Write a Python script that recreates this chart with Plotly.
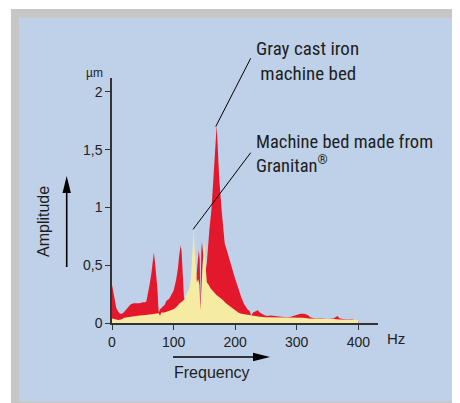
import plotly.graph_objects as go

# ---- data ----
iron_hz = [0, 2, 4, 7, 10, 13, 16, 19, 22, 26, 30, 35, 40, 45, 50, 54, 56, 58, 61, 64,
           66, 68, 70, 72, 74, 75, 76, 78, 80, 83, 86, 88, 90, 93, 96, 100, 104, 107, 109, 111.5,
           113, 114.5, 116, 117, 120, 125, 130, 134, 137, 139, 141, 142.5, 143.5, 145, 146, 148, 150, 152, 154, 156,
           158, 161.5, 165, 168, 170, 171.5, 174, 178, 183, 187, 191, 195, 199, 204, 210, 215, 220, 224, 226, 229,
           233, 237, 240, 243, 247, 252, 258, 264, 270, 276, 282, 288, 294, 300, 306, 312, 318, 322, 330, 340,
           350, 360, 366, 370, 380, 390, 400]
iron_amp = [0.33, 0.27, 0.19, 0.13, 0.10, 0.08, 0.08, 0.09, 0.11, 0.14, 0.16, 0.17, 0.17, 0.17, 0.18, 0.18, 0.19, 0.24, 0.33, 0.43,
            0.52, 0.61, 0.52, 0.42, 0.28, 0.16, 0.09, 0.12, 0.13, 0.14, 0.16, 0.19, 0.20, 0.21, 0.24, 0.28, 0.37, 0.47, 0.58, 0.67,
            0.62, 0.45, 0.30, 0.21, 0.22, 0.26, 0.30, 0.33, 0.40, 0.55, 0.63, 0.55, 0.12, 0.62, 0.70, 0.60, 0.50, 0.45, 0.52, 0.69,
            0.80, 0.98, 1.26, 1.55, 1.71, 1.55, 1.26, 0.98, 0.69, 0.62, 0.54, 0.47, 0.40, 0.32, 0.22, 0.16, 0.12, 0.10, 0.06, 0.09,
            0.10, 0.11, 0.09, 0.08, 0.07, 0.06, 0.065, 0.06, 0.055, 0.05, 0.05, 0.05, 0.06, 0.07, 0.08, 0.08, 0.07, 0.05, 0.04, 0.04,
            0.035, 0.04, 0.06, 0.04, 0.03, 0.03, 0.02]

granitan_hz = [0, 5, 10, 15, 20, 25, 30, 37, 45, 55, 65, 73, 76, 78, 80, 85, 90, 95, 100, 105,
               110, 115, 118, 121, 124, 126, 128, 130, 132, 133, 134, 136, 138, 140, 142, 143.5, 145, 147, 149, 150.5,
               152, 154, 157, 160, 165, 170, 175, 180, 185, 190, 195, 200, 205, 210, 215, 220, 230, 240, 250, 260,
               270, 280, 290, 300, 310, 320, 330, 340, 350, 360, 370, 380, 390, 400]
granitan_amp = [0.04, 0.03, 0.025, 0.03, 0.045, 0.05, 0.055, 0.06, 0.065, 0.07, 0.075, 0.08, 0.085, 0.06, 0.09, 0.09, 0.10, 0.11, 0.12, 0.14,
                0.17, 0.19, 0.21, 0.25, 0.28, 0.31, 0.38, 0.55, 0.75, 0.82, 0.65, 0.45, 0.35, 0.38, 0.33, 0.11, 0.35, 0.50, 0.62, 0.70,
                0.50, 0.35, 0.33, 0.30, 0.27, 0.24, 0.22, 0.20, 0.17, 0.15, 0.13, 0.11, 0.09, 0.08, 0.075, 0.07, 0.06, 0.055, 0.05, 0.05,
                0.048, 0.05, 0.045, 0.045, 0.045, 0.04, 0.04, 0.04, 0.035, 0.035, 0.03, 0.03, 0.03, 0.025]

x_ticks = [0, 100, 200, 300, 400]
y_ticks = [0, 0.5, 1, 1.5, 2]
y_ticktext = ["0", "0,5", "1", "1,5", "2"]

iron_peak = (168.5, 1.70)
granitan_peak = (131.6, 0.81)

X_RANGE = [0, 432]
Y_RANGE = [0, 2.12]

# ---- layout geometry (page has an 8px body margin) ----
OFF = 8
W, H = 452, 395
L, R, T, B = 104, 82, 70, 80
PW, PH = W - L - R, H - T - B

def px(x):
    return (x - OFF - L) / PW

def py(y):
    return (T + PH - (y - OFF)) / PH

def dx(v):
    return (v - X_RANGE[0]) / (X_RANGE[1] - X_RANGE[0])

def dy(v):
    return (v - Y_RANGE[0]) / (Y_RANGE[1] - Y_RANGE[0])

RED = "#e3182d"
YEL = "#f5eba3"
BLUE = "#bed1e8"
GREY = "#c6c6c6"
AX = "#333333"
FONT = "Liberation Sans, Arial, sans-serif"
NARROW = "Liberation Sans Narrow, Arial Narrow, Roboto Condensed, DejaVu Sans Condensed, Roboto, sans-serif"

fig = go.Figure()
fig.add_trace(go.Scatter(x=iron_hz, y=iron_amp, mode="lines", fill="tozeroy",
                         line=dict(width=0, color=RED), fillcolor=RED, hoverinfo="skip"))
fig.add_trace(go.Scatter(x=granitan_hz, y=granitan_amp, mode="lines", fill="tozeroy",
                         line=dict(width=0, color=YEL), fillcolor=YEL, hoverinfo="skip"))

shapes = [
    dict(type="rect", xref="paper", yref="paper", x0=px(11), x1=px(W + 20), y0=py(9), y1=py(H + 20),
         fillcolor=GREY, line=dict(width=0), layer="below"),
    dict(type="rect", xref="paper", yref="paper", x0=px(19), x1=px(W + 20), y0=py(18), y1=py(401.5),
         fillcolor=BLUE, line=dict(width=0), layer="below"),
    # amplitude arrow
    dict(type="line", xref="paper", yref="paper", x0=px(66.7), x1=px(66.7), y0=py(267), y1=py(190),
         line=dict(color="black", width=1.6)),
    dict(type="path", xref="paper", yref="paper",
         path=f"M {px(66.7)} {py(176)} L {px(62.5)} {py(193)} L {px(70.9)} {py(193)} Z",
         fillcolor="black", line=dict(width=0)),
    # frequency arrow
    dict(type="line", xref="paper", yref="paper", x0=px(173), x1=px(256), y0=py(357), y1=py(357),
         line=dict(color="black", width=1.6)),
    dict(type="path", xref="paper", yref="paper",
         path=f"M {px(270)} {py(357)} L {px(253)} {py(352.8)} L {px(253)} {py(361.2)} Z",
         fillcolor="black", line=dict(width=0)),
    # leader lines from labels to peaks
    dict(type="line", xref="paper", yref="paper", x0=dx(iron_peak[0]), y0=dy(iron_peak[1]),
         x1=px(250.7), y1=py(58.3), line=dict(color="black", width=1)),
    dict(type="line", xref="paper", yref="paper", x0=dx(granitan_peak[0]), y0=dy(granitan_peak[1]),
         x1=px(250.7), y1=py(152.7), line=dict(color="black", width=1)),
]

annotations = [
    dict(x=px(254), y=py(35), xref="paper", yref="paper", xanchor="left", yanchor="top",
         text="Gray cast iron<br> machine bed", showarrow=False, align="left",
         font=dict(family=NARROW, size=19, color="#1e1e1e")),
    dict(x=px(254), y=py(129), xref="paper", yref="paper", xanchor="left", yanchor="top",
         text="Machine bed made from<br>Granitan<sup>®</sup>", showarrow=False, align="left",
         font=dict(family=NARROW, size=18.5, color="#1e1e1e")),
    dict(x=px(94), y=py(73), xref="paper", yref="paper", xanchor="center", yanchor="middle",
         text="µm", showarrow=False, font=dict(family=FONT, size=12, color="#222")),
    dict(x=px(396), y=py(338), xref="paper", yref="paper", xanchor="center", yanchor="middle",
         text="Hz", showarrow=False, font=dict(family=FONT, size=15, color="#222")),
    dict(x=px(43), y=py(222), xref="paper", yref="paper", xanchor="center", yanchor="middle",
         text="Amplitude", showarrow=False,
         textangle=-90, font=dict(family=FONT, size=16, color="#1e1e1e")),
    dict(x=px(212), y=py(372), xref="paper", yref="paper", xanchor="center", yanchor="middle",
         text="Frequency", showarrow=False, font=dict(family=FONT, size=16, color="#1e1e1e")),
]

fig.update_layout(
    width=W, height=H,
    margin=dict(l=L, r=R, t=T, b=B),
    paper_bgcolor="white",
    plot_bgcolor="rgba(0,0,0,0)",
    showlegend=False,
    shapes=shapes,
    annotations=annotations,
    xaxis=dict(range=X_RANGE, showgrid=False, zeroline=False, showline=True, linecolor=AX, linewidth=1.5,
               ticks="outside", ticklen=5, tickcolor=AX, tickwidth=1.2, tickvals=x_ticks,
               tickfont=dict(family=FONT, size=14, color="#222"), fixedrange=True),
    yaxis=dict(range=Y_RANGE, showgrid=False, zeroline=False, showline=True, linecolor=AX, linewidth=1.5,
               ticks="outside", ticklen=5, tickcolor=AX, tickwidth=1.2, tickvals=y_ticks, ticktext=y_ticktext,
               tickfont=dict(family=FONT, size=14, color="#222"), fixedrange=True),
)

fig.write_html("out.html")
